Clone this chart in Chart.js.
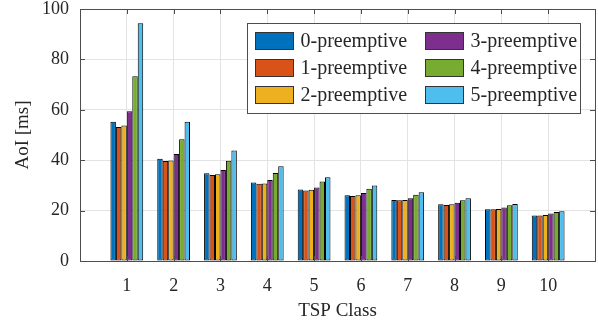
<!DOCTYPE html>
<html>
<head>
<meta charset="utf-8">
<script src="https://cdn.jsdelivr.net/npm/chart.js@4.4.1/dist/chart.umd.min.js"></script>
<style>
  html, body { margin: 0; padding: 0; background: #fff; }
  #wrap { width: 598px; height: 324px; position: relative; }
</style>
</head>
<body>
<div id="wrap"><canvas id="barChart" width="598" height="324"></canvas></div>
<script>
const categories = [1, 2, 3, 4, 5, 6, 7, 8, 9, 10];
const yTicks = [0, 20, 40, 60, 80, 100];

const seriesNames = ['0-preemptive', '1-preemptive', '2-preemptive', '3-preemptive', '4-preemptive', '5-preemptive'];
const seriesColors = ['#0072BD', '#D95319', '#EDB120', '#7E2F8E', '#77AC30', '#4DBEEE'];

const p0 = [55.3, 40.6, 34.8, 31.2, 28.4, 26.1, 24.2, 22.5, 20.5, 18.1];
const p1 = [53.2, 39.7, 34.1, 30.7, 28.0, 25.8, 24.1, 22.2, 20.5, 18.1];
const p2 = [53.8, 39.9, 34.4, 30.8, 28.3, 26.1, 24.2, 22.5, 20.6, 18.3];
const p3 = [59.4, 42.5, 36.1, 32.1, 29.2, 27.0, 24.9, 23.1, 21.2, 18.8];
const p4 = [73.3, 48.3, 39.8, 34.9, 31.5, 28.7, 26.3, 24.1, 22.1, 19.4];
const p5 = [94.3, 55.3, 43.8, 37.6, 33.2, 30.0, 27.3, 24.9, 22.6, 19.7];
const allSeries = [p0, p1, p2, p3, p4, p5];

const FONT = "'Liberation Serif', 'Times New Roman', serif";
const AXIS_COLOR = '#4d4d4d';
const TEXT_COLOR = '#262626';

// frame + inward ticks on all four sides (MATLAB "box on")
const boxPlugin = {
    id: 'boxPlugin',
    afterDatasetsDraw(chart) {
        const { ctx, chartArea: a, scales } = chart;
        ctx.save();
        ctx.strokeStyle = AXIS_COLOR;
        ctx.lineWidth = 1;
        ctx.beginPath();
        const len = 5;
        categories.forEach(c => {
            const x = Math.round(scales.x.getPixelForValue(c)) + 0.5;
            ctx.moveTo(x, a.bottom); ctx.lineTo(x, a.bottom - len);
            ctx.moveTo(x, a.top); ctx.lineTo(x, a.top + len);
        });
        yTicks.forEach(v => {
            const y = Math.round(scales.y.getPixelForValue(v)) + 0.5;
            ctx.moveTo(a.left, y); ctx.lineTo(a.left + len, y);
            ctx.moveTo(a.right, y); ctx.lineTo(a.right - len, y);
        });
        ctx.stroke();
        ctx.strokeRect(Math.round(a.left) + 0.5, Math.round(a.top) + 0.5,
            Math.round(a.right - a.left), Math.round(a.bottom - a.top));
        ctx.restore();
    }
};

// legend inside the plot, two columns filled top-down
const legendPlugin = {
    id: 'boxLegend',
    afterDraw(chart) {
        const ctx = chart.ctx;
        const box = { x: 247.5, y: 23.5, w: 333, h: 90 };
        ctx.save();
        ctx.fillStyle = '#fff';
        ctx.fillRect(box.x, box.y, box.w, box.h);
        ctx.strokeStyle = AXIS_COLOR;
        ctx.lineWidth = 1;
        ctx.strokeRect(box.x, box.y, box.w, box.h);
        ctx.font = '20px ' + FONT;
        ctx.textBaseline = 'middle';
        ctx.fillStyle = TEXT_COLOR;
        seriesNames.forEach((name, i) => {
            const col = Math.floor(i / 3);
            const row = i % 3;
            const sx = col === 0 ? 255.5 : 425.5;
            const cy = 41 + row * 27;
            ctx.fillStyle = seriesColors[i];
            ctx.fillRect(sx, cy - 8.5, 38, 17);
            ctx.strokeStyle = '#333';
            ctx.strokeRect(sx, cy - 8.5, 38, 17);
            ctx.fillStyle = TEXT_COLOR;
            ctx.fillText(name, sx + 45, cy + 1);
        });
        ctx.restore();
    }
};

function initBarChart() {
    const ctx = document.getElementById('barChart');
    if (!ctx) return;

    const datasets = allSeries.map((vals, i) => ({
        label: seriesNames[i],
        data: categories.map((c, j) => ({ x: c, y: vals[j] })),
        backgroundColor: seriesColors[i],
        borderColor: '#000',
        borderWidth: 1,
        borderSkipped: false,
        barPercentage: 1.0,
        categoryPercentage: 0.7
    }));

    new Chart(ctx, {
        type: 'bar',
        data: { datasets },
        options: {
            responsive: false,
            animation: false,
            layout: { padding: { top: 9, right: 3, left: 0, bottom: 0 } },
            plugins: {
                legend: { display: false },
                tooltip: { enabled: false }
            },
            scales: {
                x: {
                    type: 'linear',
                    min: 0,
                    max: 11,
                    offset: false,
                    afterBuildTicks: s => { s.ticks = categories.map(v => ({ value: v })); },
                    afterFit: s => { s.height = 63; s.paddingLeft = 0; s.paddingRight = 0; },
                    grid: { color: '#e3e3e3', drawTicks: false, offset: false },
                    border: { display: false },
                    ticks: {
                        color: TEXT_COLOR,
                        font: { family: FONT, size: 18 },
                        padding: 14,
                        maxRotation: 0,
                        autoSkip: false
                    },
                    title: {
                        display: true,
                        text: 'TSP Class',
                        color: TEXT_COLOR,
                        font: { family: FONT, size: 19 },
                        padding: { top: 0, bottom: 2 }
                    }
                },
                y: {
                    min: 0,
                    max: 100,
                    afterBuildTicks: s => { s.ticks = yTicks.map(v => ({ value: v })); },
                    afterFit: s => { s.width = 80; s.paddingTop = 0; s.paddingBottom = 0; },
                    grid: { color: '#e3e3e3', drawTicks: false },
                    border: { display: false },
                    ticks: {
                        color: TEXT_COLOR,
                        font: { family: FONT, size: 18 },
                        padding: 11
                    },
                    title: {
                        display: true,
                        text: 'AoI [ms]',
                        color: TEXT_COLOR,
                        font: { family: FONT, size: 19 },
                        padding: { top: 12, bottom: 0 }
                    }
                }
            }
        },
        plugins: [boxPlugin, legendPlugin]
    });
}

initBarChart();
</script>
</body>
</html>
